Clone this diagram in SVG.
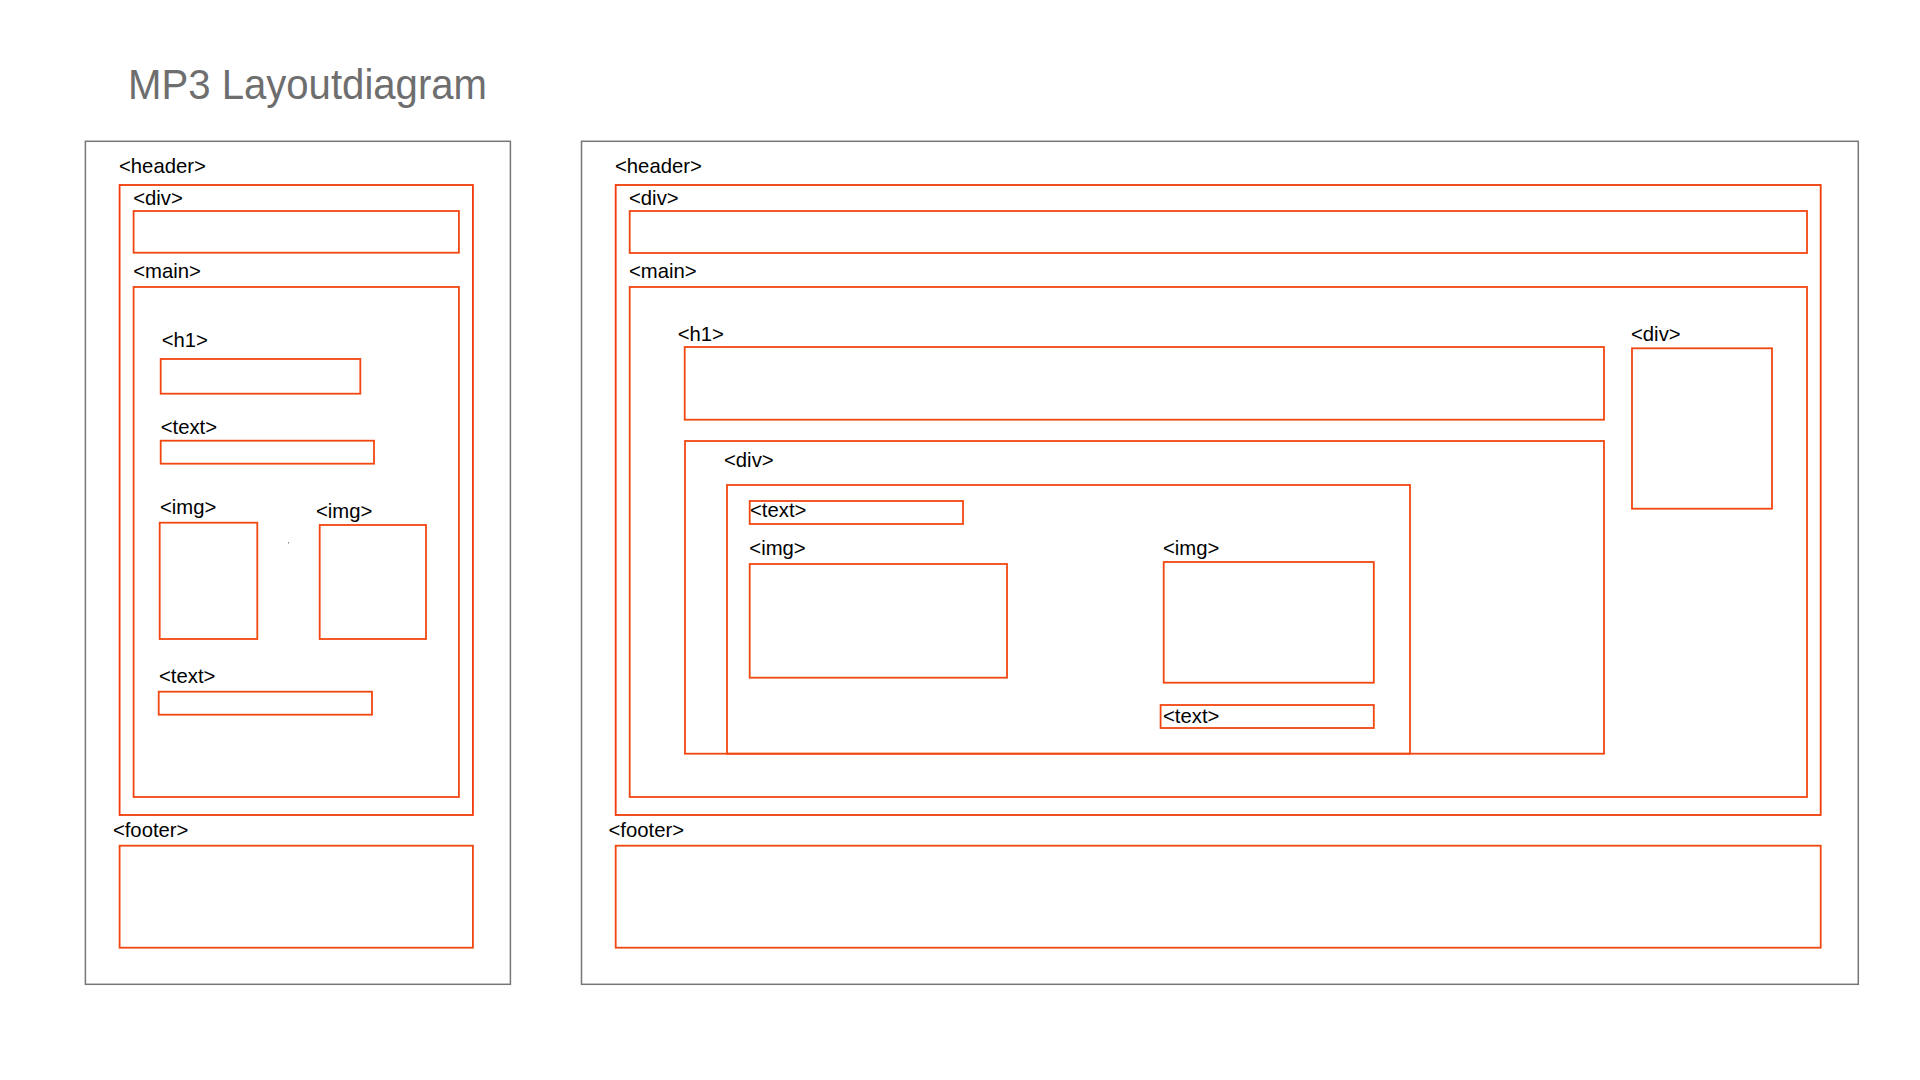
<svg xmlns="http://www.w3.org/2000/svg" width="1920" height="1080" viewBox="0 0 1920 1080">
<style>
.frame{fill:none;stroke:#767676;stroke-width:1.5}
.box{fill:none;stroke:#f2460f;stroke-width:1.8}
.hbox{fill:none;stroke:#f23a0a;stroke-width:1.8}
.lbl{font-family:"Liberation Sans",Arial,Helvetica,sans-serif;font-size:20.3px;fill:#000}
.title{font-family:"Liberation Sans",Arial,Helvetica,sans-serif;font-size:42px;fill:#6e6e6e}
</style>
<rect width="1920" height="1080" fill="#fff"/>
<text class="title" x="128" y="98.5" textLength="359" lengthAdjust="spacingAndGlyphs">MP3 Layoutdiagram</text>

<g id="mobile">
<rect id="m-frame" class="frame" x="85.4" y="141.3" width="425" height="843"/>
<g id="m-header"><text class="lbl" x="119" y="173.3">&lt;header&gt;</text><rect class="hbox" x="119.6" y="185" width="353.3" height="630"/></g>
<g id="m-div"><text class="lbl" x="133.2" y="204.9">&lt;div&gt;</text><rect class="box" x="133.6" y="211" width="325.3" height="41.7"/></g>
<g id="m-main"><text class="lbl" x="133.2" y="278.3">&lt;main&gt;</text><rect class="box" x="133.6" y="287" width="325.3" height="510"/></g>
<g id="m-h1"><text class="lbl" x="161.7" y="346.6">&lt;h1&gt;</text><rect class="box" x="160.7" y="359" width="199.6" height="34.7"/></g>
<g id="m-text1"><text class="lbl" x="160.7" y="433.9">&lt;text&gt;</text><rect class="box" x="160.7" y="440.7" width="213.3" height="23"/></g>
<g id="m-img1"><text class="lbl" x="160" y="513.9">&lt;img&gt;</text><rect class="box" x="159.7" y="522.7" width="97.6" height="116.3"/></g>
<g id="m-img2"><text class="lbl" x="316" y="517.9">&lt;img&gt;</text><rect class="box" x="319.7" y="525" width="106.3" height="114"/></g>
<rect x="288" y="542" width="1" height="1.5" fill="#888"/>
<g id="m-text2"><text class="lbl" x="159" y="682.9">&lt;text&gt;</text><rect class="box" x="158.7" y="691.7" width="213.3" height="23"/></g>
<g id="m-footer"><text class="lbl" x="112.9" y="836.6">&lt;footer&gt;</text><rect class="box" x="119.6" y="845.7" width="353.3" height="102"/></g>
</g>

<g id="desktop">
<rect id="d-frame" class="frame" x="581.5" y="141.3" width="1276.8" height="843"/>
<g id="d-header"><text class="lbl" x="615" y="173.3">&lt;header&gt;</text><rect class="hbox" x="615.7" y="185" width="1205" height="630"/></g>
<g id="d-div"><text class="lbl" x="629" y="204.9">&lt;div&gt;</text><rect class="box" x="629.7" y="211" width="1177.3" height="42"/></g>
<g id="d-main"><text class="lbl" x="629" y="278.3">&lt;main&gt;</text><rect class="box" x="629.7" y="287" width="1177.3" height="510"/></g>
<g id="d-h1"><text class="lbl" x="677.7" y="341.3">&lt;h1&gt;</text><rect class="box" x="684.7" y="347" width="919.3" height="72.7"/></g>
<g id="d-side"><text class="lbl" x="1631" y="341.3">&lt;div&gt;</text><rect class="box" x="1632" y="348.3" width="140" height="160.4"/></g>
<g id="d-div2"><text class="lbl" x="724" y="466.6">&lt;div&gt;</text><rect class="box" x="685" y="441" width="919" height="312.7"/></g>
<g id="d-div3"><rect class="box" x="727" y="485" width="683" height="268.7"/></g>
<g id="d-text1"><rect class="box" x="749.7" y="501" width="213.3" height="23"/><text class="lbl" x="750" y="516.6">&lt;text&gt;</text></g>
<g id="d-img1"><text class="lbl" x="749.3" y="554.6">&lt;img&gt;</text><rect class="box" x="749.7" y="564" width="257.3" height="113.7"/></g>
<g id="d-img2"><text class="lbl" x="1163" y="554.6">&lt;img&gt;</text><rect class="box" x="1163.7" y="562" width="210.1" height="120.7"/></g>
<g id="d-text2"><rect class="box" x="1160.6" y="705" width="213.2" height="23"/><text class="lbl" x="1163" y="722.9">&lt;text&gt;</text></g>
<g id="d-footer"><text class="lbl" x="608.5" y="836.6">&lt;footer&gt;</text><rect class="box" x="615.7" y="845.7" width="1205" height="102"/></g>
</g>
<g id="connectors"/>
</svg>
